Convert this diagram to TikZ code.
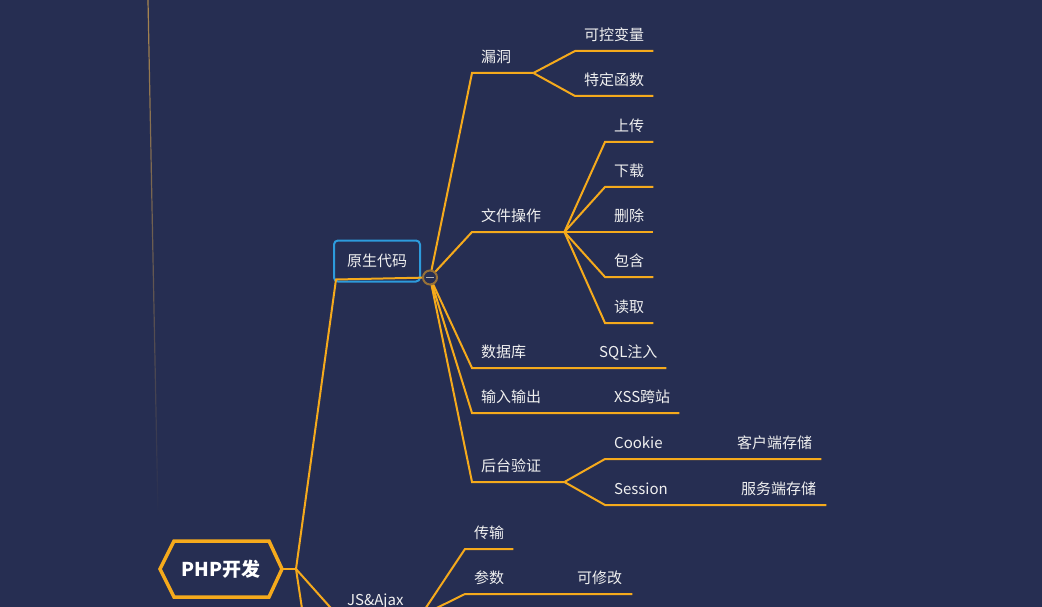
\documentclass[tikz,border=0pt]{standalone}
\usepackage{fontspec}
\setmainfont{Noto Sans CJK SC}
\usepackage{tikz}
\usetikzlibrary{calc,fadings,positioning}
\definecolor{bgcol}{RGB}{38,46,82}
\definecolor{lineor}{RGB}{245,170,28}
\definecolor{boxblue}{RGB}{45,155,220}
\definecolor{foldring}{RGB}{150,112,55}
\definecolor{txt}{RGB}{240,240,240}

\begin{document}
\begin{tikzpicture}[x=1pt,y=-1pt,
		branch/.style={draw=lineor, line width=2pt},
		rootline/.style={draw=lineor, line width=3.5pt, line join=miter},
		faint/.style={draw={rgb,255:red,170;green,135;blue,80}, line width=1.2pt, path fading=south},
		topic/.style={anchor=south west, inner xsep=9pt, inner ysep=0pt, minimum height=29pt, text width=#1, align=left, text height=11pt, text depth=3pt, text=txt, font=\fontsize{15}{18}\selectfont},
		ysbox/.style={draw=boxblue, line width=2pt, rounded corners=4pt, fill=bgcol, minimum width=86pt, minimum height=41pt, inner sep=0pt, text=txt, font=\fontsize{15}{18}\selectfont},
		roottext/.style={inner sep=0pt, text=white, font=\fontsize{19}{22}\selectfont\bfseries},
		foldmark/.style={circle, draw=foldring, line width=2pt, fill=bgcol, minimum size=14pt, inner sep=0pt,
			path picture={\draw[gray!60!white, line width=1.8pt] ([xshift=-4pt]path picture bounding box.center) -- ([xshift=4pt]path picture bounding box.center);}}]
					\useasboundingbox (0,0) rectangle (1042,607);
					\fill[bgcol] (0,0) rectangle (1042,607);
					\clip (0,0) rectangle (1042,607);

					\draw[faint] (148,0) -- (158,515);

					\node[roottext] (php) at (221,569) {PHP开发};
					\coordinate (phpr) at ($(php)+(61,0)$);
					\draw[rootline] ($(php)+(-61,0)$) -- ($(php)+(-47,-28)$) -- ($(php)+(48,-28)$) -- (phpr) -- ($(php)+(48,28)$) -- ($(php)+(-47,28)$) -- cycle;
					\coordinate (rh) at (296,569);

					\node[ysbox] (ys) at (377,261) {原生代码};
					\coordinate (ysu) at ([shift={(3,-3)}]ys.south west);
					\coordinate (hub) at (430,277.5);

					\node[topic=43pt] (vuln) at (472,73) {漏洞};
					\node[topic=60pt] (ctrl) at (575,51) {可控变量};
					\node[topic=60pt] (func) at (575,96) {特定函数};

					\node[topic=74pt] (file) at (472,232) {文件操作};
					\node[topic=30pt] (up) at (605,142) {上传};
					\node[topic=30pt] (down) at (605,187) {下载};
					\node[topic=30pt] (del) at (605,232) {删除};
					\node[topic=30pt] (incl) at (605,277) {包含};
					\node[topic=30pt] (read) at (605,323) {读取};

					\node[topic=100pt] (db) at (472,368) {数据库};
					\node[topic=58pt] (sql) at (590,368) {SQL注入};

					\node[topic=115pt] (io) at (472,413) {输入输出};
					\node[topic=56pt] (xss) at (605,413) {XSS跨站};

					\node[topic=74pt] (auth) at (472,482) {后台验证};
					\node[topic=105pt] (cookie) at (605,459) {Cookie};
					\node[topic=75pt] (client) at (728,459) {客户端存储};
					\node[topic=109pt] (session) at (605,505) {Session};
					\node[topic=76pt] (server) at (732,505) {服务端存储};

					\node[topic=64pt] (ja) at (338,616) {JS\&Ajax};
					\node[topic=30pt] (trans) at (465,549) {传输};
					\node[topic=85pt] (para) at (465,594) {参数};
					\node[topic=46pt] (modi) at (568,594) {可修改};
					\coordinate (more) at (303,615);

					\draw[branch] (phpr) -- (rh);
					\draw[branch] (rh) -- (ysu) -- (hub);
					\draw[branch] (rh) -- (ja.south west) -- (ja.south east);
					\draw[branch] (rh) -- (more);

					\draw[branch] (hub) -- (vuln.south west) -- (vuln.south east);
					\draw[branch] (vuln.south east) -- (ctrl.south west) -- (ctrl.south east);
					\draw[branch] (vuln.south east) -- (func.south west) -- (func.south east);

					\draw[branch] (hub) -- (file.south west) -- (file.south east);
					\draw[branch] (file.south east) -- (up.south west) -- (up.south east);
					\draw[branch] (file.south east) -- (down.south west) -- (down.south east);
					\draw[branch] (file.south east) -- (del.south west) -- (del.south east);
					\draw[branch] (file.south east) -- (incl.south west) -- (incl.south east);
					\draw[branch] (file.south east) -- (read.south west) -- (read.south east);

					\draw[branch] (hub) -- (db.south west) -- (db.south east) -- (sql.south west) -- (sql.south east);
					\draw[branch] (hub) -- (io.south west) -- (io.south east) -- (xss.south west) -- (xss.south east);

					\draw[branch] (hub) -- (auth.south west) -- (auth.south east);
					\draw[branch] (auth.south east) -- (cookie.south west) -- (cookie.south east) -- (client.south west) -- (client.south east);
					\draw[branch] (auth.south east) -- (session.south west) -- (session.south east) -- (server.south west) -- (server.south east);

					\draw[branch] (ja.south east) -- (trans.south west) -- (trans.south east);
					\draw[branch] (ja.south east) -- (para.south west) -- (para.south east) -- (modi.south west) -- (modi.south east);

					\node[foldmark] (fold) at (hub) {};
				\end{tikzpicture}
\end{document}
